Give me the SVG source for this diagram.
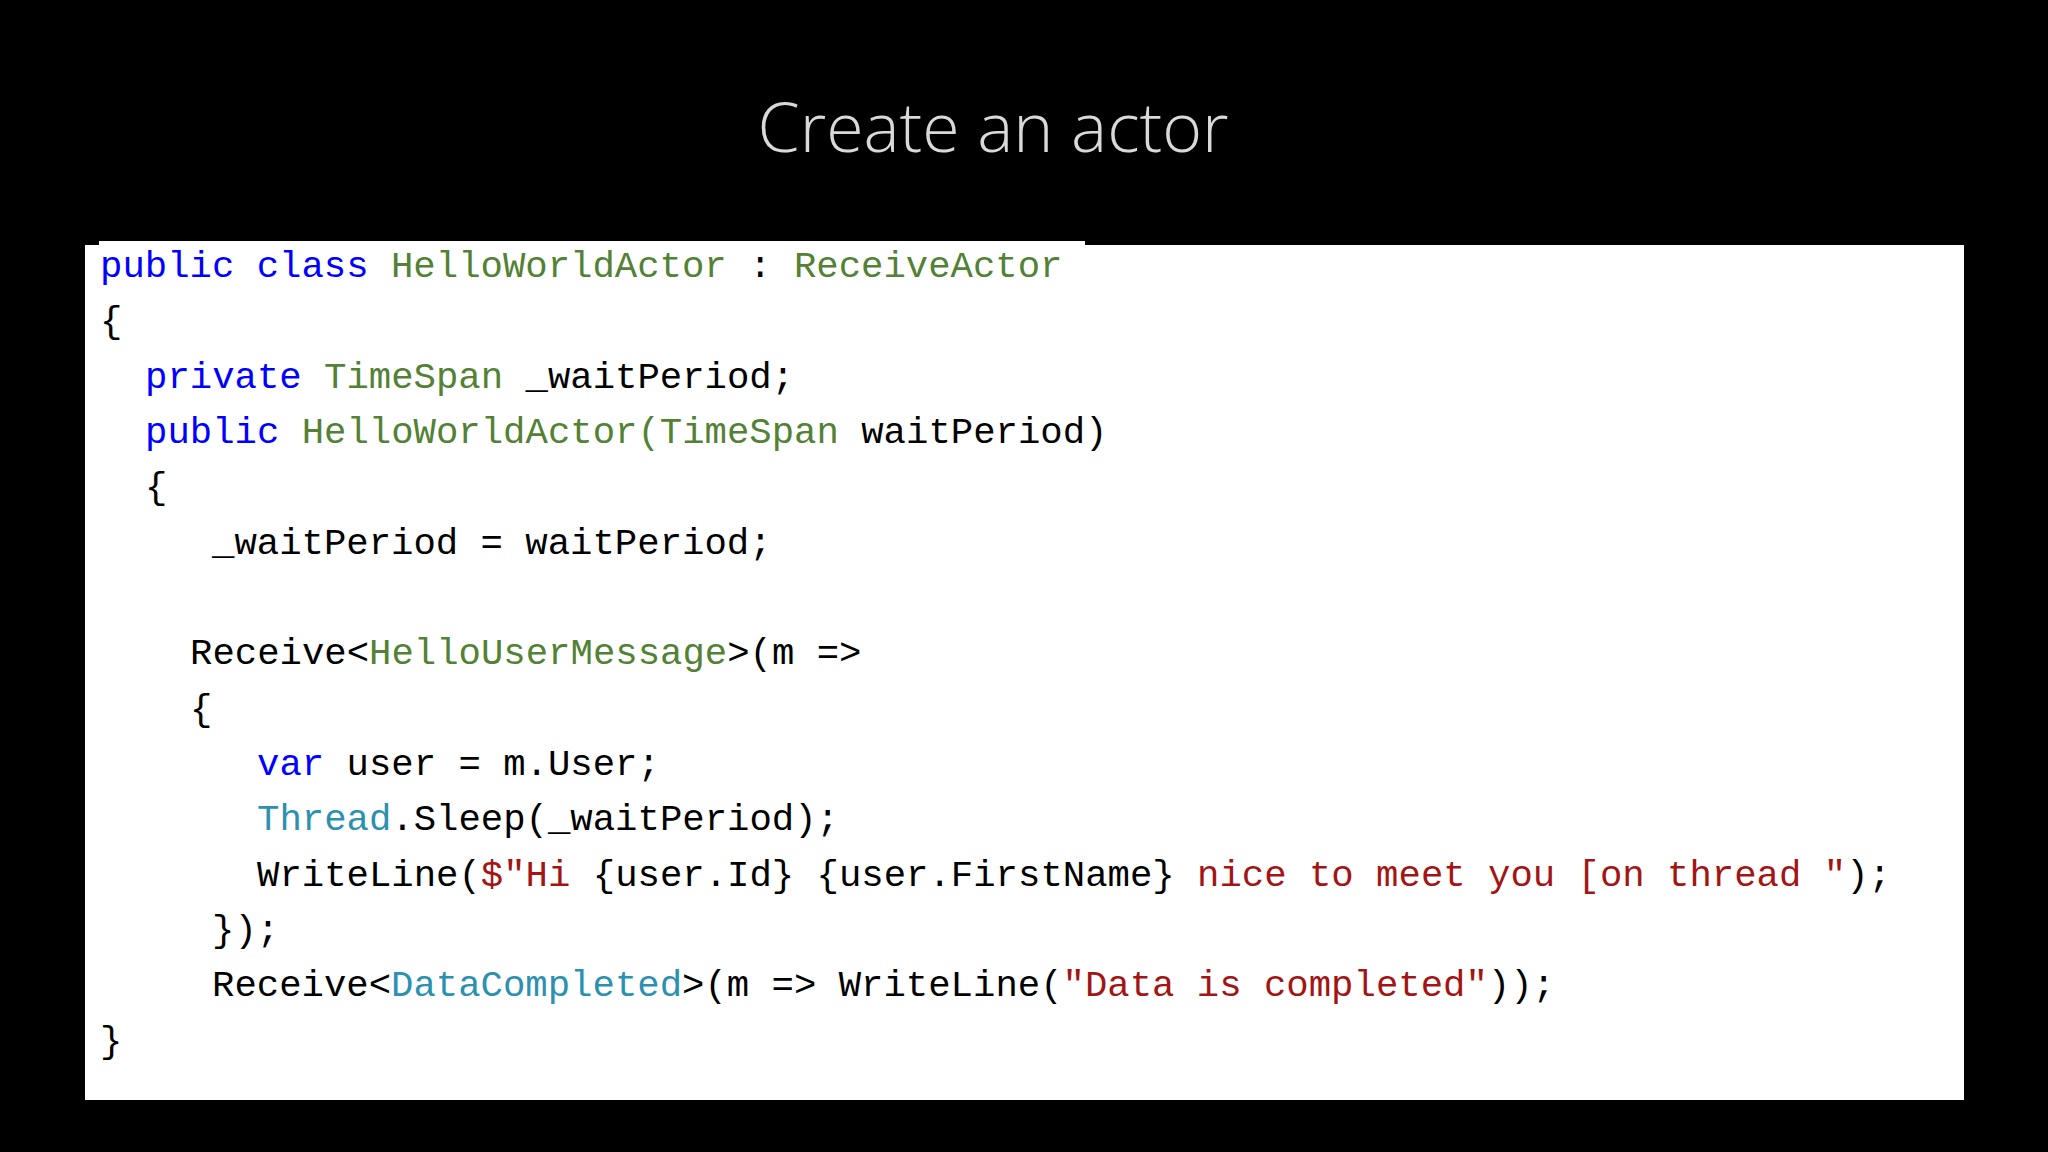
<svg xmlns="http://www.w3.org/2000/svg" width="2048" height="1152" viewBox="0 0 2048 1152">
<style>
.c{font-family:"Liberation Mono","DejaVu Sans Mono",monospace;font-size:37.3px;fill:#000;white-space:pre}
.k{fill:#0000ff}.g{fill:#538135}.t{fill:#2b91af}.r{fill:#a31515}
</style>
<rect width="2048" height="1152" fill="#000"/>
<text x="993" y="152" text-anchor="middle" font-family="Open Sans, sans-serif" font-weight="300" font-size="68" fill="#d9d9d9">Create an actor</text>
<g id="code">
<rect x="85" y="245" width="1879" height="855" fill="#fff"/>
<rect x="99" y="241" width="986" height="6" fill="#fff"/>
<text class="c" xml:space="preserve">
<tspan x="100" y="277"><tspan class="k">public class</tspan> <tspan class="g">HelloWorldActor</tspan> : <tspan class="g">ReceiveActor</tspan></tspan>
<tspan x="100" y="332">{</tspan>
<tspan x="145" y="388"><tspan class="k">private</tspan> <tspan class="g">TimeSpan</tspan> _waitPeriod;</tspan>
<tspan x="145" y="443"><tspan class="k">public</tspan> <tspan class="g">HelloWorldActor(TimeSpan</tspan> waitPeriod)</tspan>
<tspan x="145" y="498">{</tspan>
<tspan x="212" y="554">_waitPeriod = waitPeriod;</tspan>
<tspan x="190" y="664">Receive&lt;<tspan class="g">HelloUserMessage</tspan>&gt;(m =&gt;</tspan>
<tspan x="190" y="720">{</tspan>
<tspan x="257" y="775"><tspan class="k">var</tspan> user = m.User;</tspan>
<tspan x="257" y="830"><tspan class="t">Thread</tspan>.Sleep(_waitPeriod);</tspan>
<tspan x="257" y="886">WriteLine(<tspan class="r">$"Hi </tspan>{user.Id} {user.FirstName}<tspan class="r"> nice to meet you [on thread "</tspan>);</tspan>
<tspan x="212" y="941">});</tspan>
<tspan x="212" y="996">Receive&lt;<tspan class="t">DataCompleted</tspan>&gt;(m =&gt; WriteLine(<tspan class="r">"Data is completed"</tspan>));</tspan>
<tspan x="100" y="1052">}</tspan>
</text>
</g>
</svg>
